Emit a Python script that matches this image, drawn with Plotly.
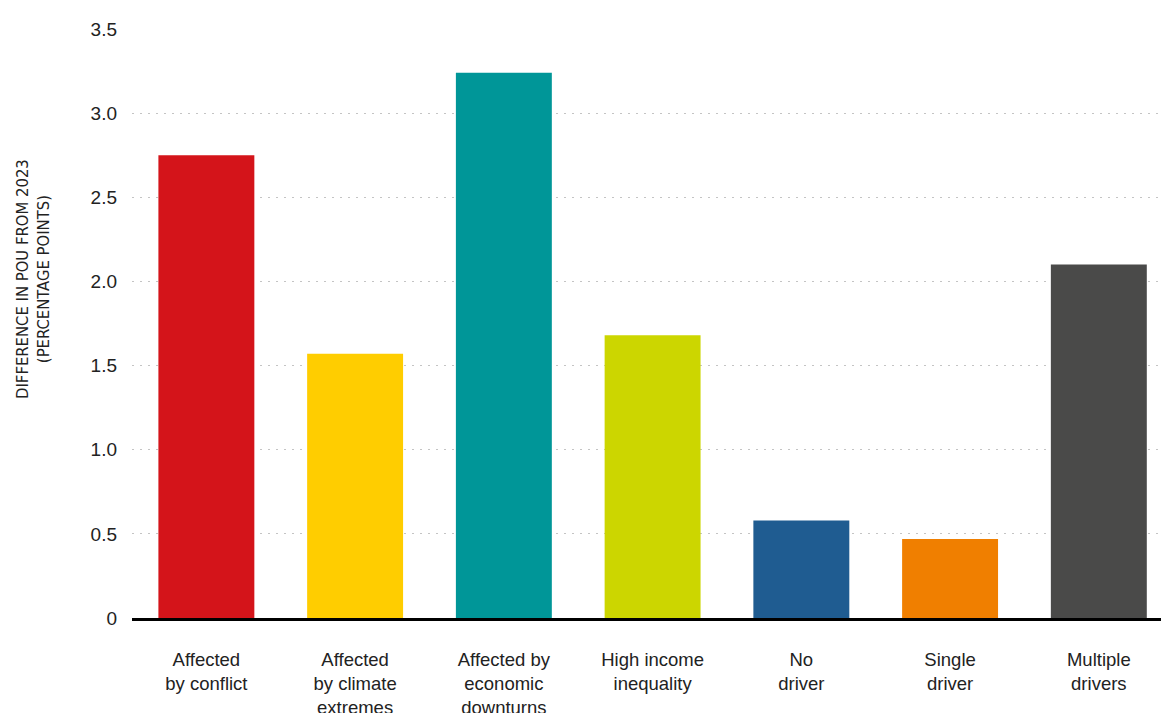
import plotly.graph_objects as go

categories = ["Affected<br>by conflict", "Affected<br>by climate<br>extremes",
              "Affected by<br>economic<br>downturns", "High income<br>inequality",
              "No<br>driver", "Single<br>driver", "Multiple<br>drivers"]
values = [2.75, 1.57, 3.24, 1.68, 0.58, 0.47, 2.10]
colors = ["#D4141A", "#FFCD00", "#009698", "#CCD600", "#1F5C91", "#F07F00", "#4A4A49"]
tick_vals = [0, 0.5, 1.0, 1.5, 2.0, 2.5, 3.0, 3.5]
tick_text = ["0", "0.5", "1.0", "1.5", "2.0", "2.5", "3.0", "3.5"]
y_title = "DIFFERENCE IN POU FROM 2023<br>(PERCENTAGE POINTS)"

fig = go.Figure(go.Bar(x=categories, y=values, marker_color=colors, marker_line_width=0,
                       hoverinfo="y"))

fig.update_layout(
    width=1161, height=713,
    margin=dict(l=132, r=0, t=29, b=95),
    paper_bgcolor="white", plot_bgcolor="white",
    bargap=0.355,
    showlegend=False,
    font=dict(family="Liberation Sans, Arial, sans-serif", color="#222222", size=18),
)
fig.update_xaxes(
    range=[-0.5, 6.418], automargin=False,
    showline=True, linecolor="black", linewidth=3,
    showgrid=False, ticks="", ticklabelstandoff=23,
    tickfont=dict(size=18.5, color="#222222"),
)
fig.update_yaxes(
    range=[0, 3.5], tickvals=tick_vals, ticktext=tick_text, automargin=False,
    showgrid=True, gridcolor="#c4c4c4", gridwidth=1, griddash="2px,6px",
    zeroline=False, showline=False, ticks="", ticklabelstandoff=14,
    tickfont=dict(size=19, color="#222222"),
)
fig.add_annotation(
    text=y_title, textangle=-90, showarrow=False,
    xref="paper", yref="paper", x=0, y=0.5756, xanchor="center", yanchor="middle",
    xshift=-99, align="center",
    font=dict(family="Liberation Sans Narrow, DejaVu Sans Condensed, sans-serif", size=16.5, color="#222222"),
)

fig.write_html("out.html", config={"displayModeBar": False},
               post_script="document.body.style.margin='0';document.body.style.overflow='hidden';")
